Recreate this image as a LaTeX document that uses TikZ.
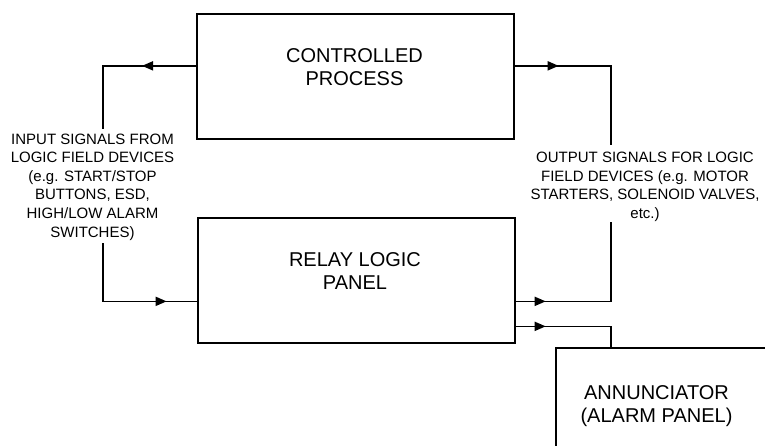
\documentclass[tikz,border=0pt]{standalone}
\usepackage{fontspec}
\setmainfont{Liberation Sans}
\usetikzlibrary{arrows.meta,decorations.markings}
\tikzset{
  x=1pt, y=-1pt,
  blockbox/.style={draw, line width=1.7pt, minimum width=317pt, minimum height=125pt, inner sep=0pt},
  boxtext/.style={inner sep=0pt, align=center, font=\fontsize{20}{23}\selectfont},
  sigtext/.style={inner sep=0pt, align=center, font=\fontsize{15}{18.6}\selectfont},
  wire/.style={line width=1.7pt},
  midarrow/.style={postaction={decorate}, decoration={markings,
      mark=at position #1 with {\arrow{Triangle[length=11pt,width=9pt]}}}},
}
\begin{document}
\begin{tikzpicture}
\useasboundingbox (0,0) rectangle (765,445);
\clip (0,0) rectangle (765,445);
% blocks
\node[blockbox, anchor=north west] (cp) at (196,13) {};
\node[blockbox, anchor=north west] (rl) at (197,217) {};
\node[blockbox, anchor=north west] (ann) at (555,347) {};
% block texts
\node[boxtext, anchor=north] (cpt) at (354.5,48) {CONTROLLED\\PROCESS};
\node[boxtext, anchor=north] (rlt) at (355,252) {RELAY LOGIC\\PANEL};
\node[boxtext, anchor=north] (annt) at (656.5,385) {ANNUNCIATOR\\(ALARM PANEL)};
% signal texts
\node[sigtext, anchor=north] (intext) at (92.5,133.5) {INPUT SIGNALS FROM\\LOGIC FIELD DEVICES\\(e.g. START/STOP\\BUTTONS, ESD,\\HIGH/LOW ALARM\\SWITCHES)};
\node[sigtext, anchor=north] (outtext) at (645,152) {OUTPUT SIGNALS FOR LOGIC\\FIELD DEVICES (e.g. MOTOR\\STARTERS, SOLENOID VALVES,\\etc.)};
% free ends of the wires
\coordinate (inTop) at (103,129);
\coordinate (inBot) at (103,243);
\coordinate (outTop) at (611,145);
\coordinate (outBot) at (611,222);
% wires
\draw[wire, midarrow=54pt] ([yshift=10.5pt]cp.west) -| (inTop);
\draw[wire, midarrow=122pt] (inBot) |- ([yshift=-21pt]rl.west);
\draw[wire, midarrow=44pt] ([yshift=10.5pt]cp.east) -| (outTop);
\draw[wire, midarrow=30pt] ([yshift=-21pt]rl.east) -| (outBot);
\draw[wire, midarrow=30pt] ([yshift=-46pt]rl.east) -| ([xshift=56pt]ann.north west);
\end{tikzpicture}
\end{document}
